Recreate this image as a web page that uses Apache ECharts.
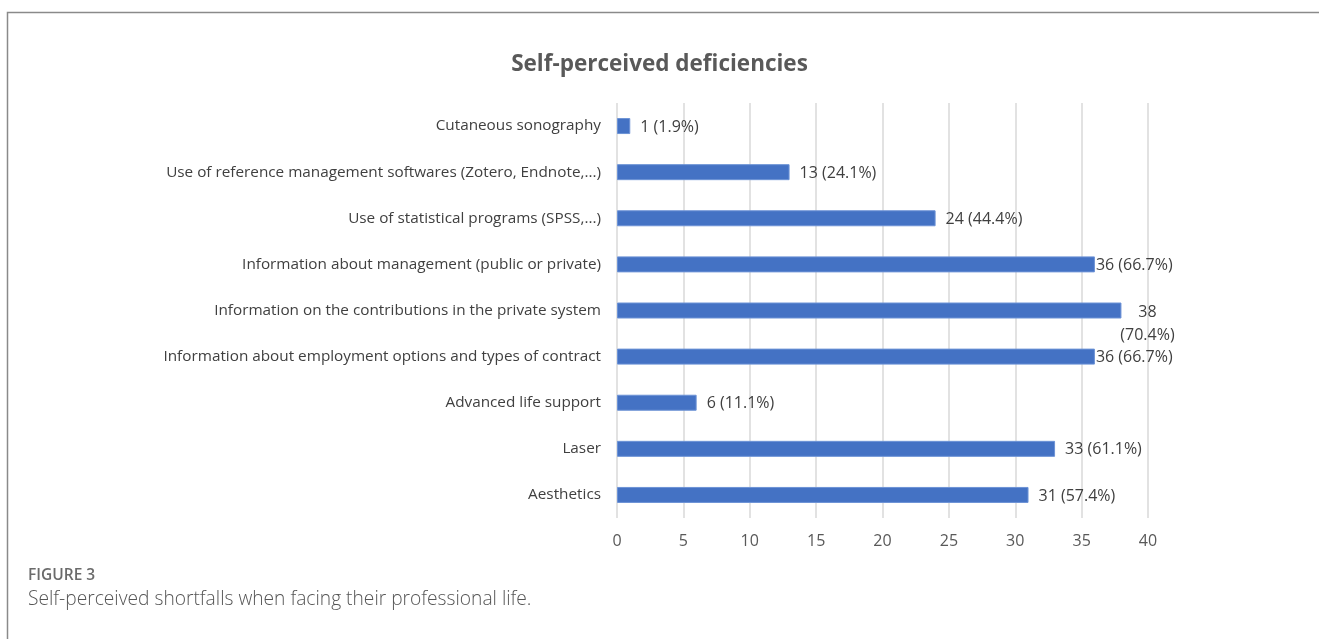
<!DOCTYPE html>
<html>
<head>
<meta charset="utf-8">
<script src="https://cdn.jsdelivr.net/npm/echarts@6/dist/echarts.min.js"></script>
<style>
  html, body { margin: 0; padding: 0; background: #fff; }
  #chart { width: 1319px; height: 639px; }
</style>
</head>
<body>
<div id="chart"></div>
<script>
// Self-perceived deficiencies (counts and percentages)
var categories = [
    'Aesthetics',
    'Laser',
    'Advanced life support',
    'Information about employment options and types of contract',
    'Information on the contributions in the private system',
    'Information about management (public or private)',
    'Use of statistical programs (SPSS,...)',
    'Use of reference management softwares (Zotero, Endnote,...)',
    'Cutaneous sonography'
];
var counts = [31, 33, 6, 36, 38, 36, 24, 13, 1];
var percents = ['57.4%', '61.1%', '11.1%', '66.7%', '70.4%', '66.7%', '44.4%', '24.1%', '1.9%'];
var xTicks = [0, 5, 10, 15, 20, 25, 30, 35, 40];

var chart = echarts.init(document.getElementById('chart'));

var font = '"Open Sans", Lato, sans-serif';

var barData = counts.map(function (v, i) {
    var item = { value: v };
    if (v === 38) {
        // label wraps onto two lines in the original
        item.label = { formatter: v + '\n(' + percents[i] + ')', align: 'center', offset: [16, 13], lineHeight: 23 };
    } else if (v === 36) {
        item.label = { distance: 1 };
    }
    return item;
});

var option = {
    animation: false,
    title: {
        text: 'Self-perceived deficiencies',
        left: 'center',
        top: 48,
        textStyle: {
            fontFamily: font,
            fontSize: 22.5,
            fontWeight: 'bold',
            color: '#595959'
        }
    },
    grid: {
        left: 617,
        right: 171,
        top: 103,
        bottom: 121,
        containLabel: false
    },
    xAxis: {
        type: 'value',
        min: xTicks[0],
        max: xTicks[xTicks.length - 1],
        interval: 5,
        axisLine: { show: false },
        axisTick: { show: false },
        splitLine: { lineStyle: { color: '#d9d9d9', width: 1.5 } },
        axisLabel: {
            margin: 15,
            fontFamily: font,
            fontSize: 16,
            color: '#595959'
        }
    },
    yAxis: {
        type: 'category',
        data: categories,
        axisLine: { show: false },
        axisTick: { show: false },
        axisLabel: {
            margin: 16,
            fontFamily: font,
            fontSize: 15.3,
            color: '#404040',
            padding: [3, 0, 0, 0]
        }
    },
    series: [
        {
            type: 'bar',
            data: barData,
            barWidth: 16,
            itemStyle: {
                color: '#4472c4',
                borderColor: '#6d93d6',
                borderWidth: 1
            },
            label: {
                show: true,
                position: 'right',
                distance: 10,
                fontFamily: font,
                fontSize: 16,
                color: '#404040',
                offset: [0, 1],
                formatter: function (p) {
                    return p.value + ' (' + percents[p.dataIndex] + ')';
                }
            }
        }
    ],
    graphic: [
        {
            type: 'polyline',
            shape: { points: [[7.5, 639], [7.5, 12.5], [1319, 12.5]] },
            style: { stroke: '#8a8a8a', lineWidth: 1.5, fill: null }
        },
        {
            type: 'text',
            left: 28,
            top: 568,
            style: {
                text: 'FIGURE 3',
                fontFamily: font,
                fontSize: 15.5,
                fontWeight: 600,
                fill: '#6b6b6b'
            }
        },
        {
            type: 'text',
            left: 28,
            top: 590,
            style: {
                text: 'Self-perceived shortfalls when facing their professional life.',
                fontFamily: font,
                fontSize: 19.2,
                fontWeight: 300,
                fill: '#555555'
            }
        }
    ]
};

chart.setOption(option);
</script>
</body>
</html>
